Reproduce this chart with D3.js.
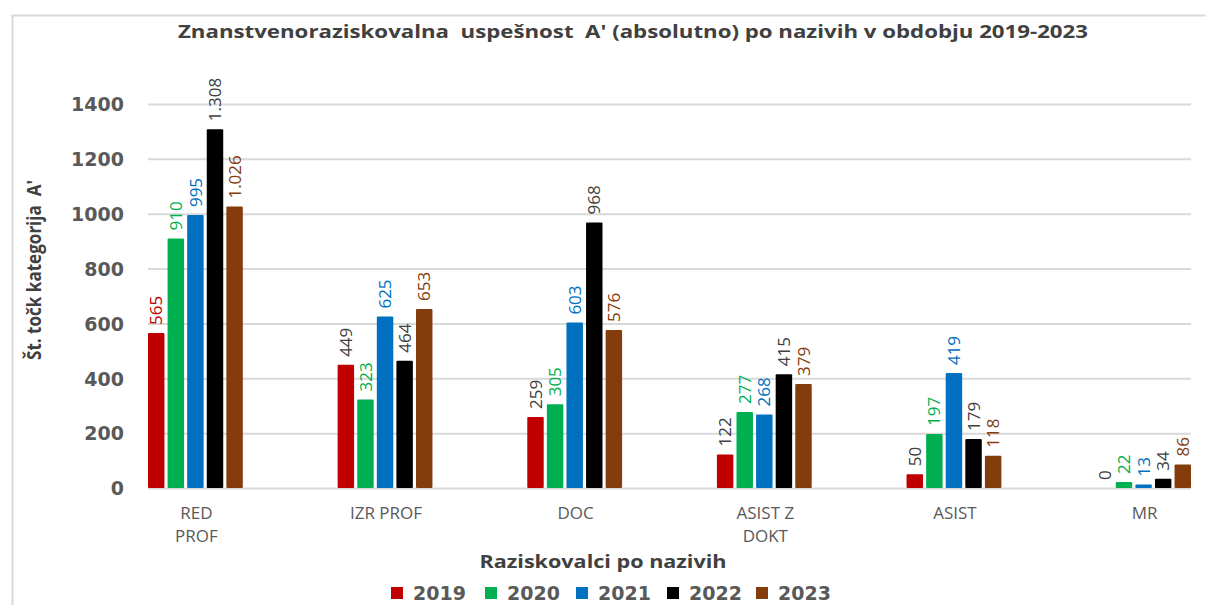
<!DOCTYPE html>
<html><head><meta charset="utf-8">
<script src="https://cdn.jsdelivr.net/npm/d3@7"></script>
<style>
body{margin:0;background:#fff;}
svg{display:block;}
text{white-space:pre;}
</style></head>
<body><svg id="c" width="1206" height="605"></svg>
<script>
const categories = [["RED","PROF"],["IZR PROF"],["DOC"],["ASIST Z","DOKT"],["ASIST"],["MR"]];
const years = ["2019","2020","2021","2022","2023"];
const v2019 = [565, 449, 259, 122, 50, 0];
const v2020 = [910, 323, 305, 277, 197, 22];
const v2021 = [995, 625, 603, 268, 419, 13];
const v2022 = [1308, 464, 968, 415, 179, 34];
const v2023 = [1026, 653, 576, 379, 118, 86];
const yTicks = [0, 200, 400, 600, 800, 1000, 1200, 1400];
const barColors = ["#c00000", "#00b050", "#0070c0", "#000000", "#843c0c"];
const labelColors = [["#c00000","#404040","#404040","#404040","#404040","#404040"],
  "#00b050","#0070c0","#404040","#843c0c"];
const title = "Znanstvenoraziskovalna  uspešnost  A' (absolutno) po nazivih v obdobju 2019-2023";
const yTitle = "Št. točk kategorija  A'";
const xTitle = "Raziskovalci po nazivih";

const series = [v2019, v2020, v2021, v2022, v2023];
const svg = d3.select("#c");
const catKeys = categories.map(c => c.join(" "));

// frame
svg.append("rect").attr("x", 12.5).attr("y", 15.5).attr("width", 1300).attr("height", 700)
  .attr("fill", "none").attr("stroke", "#d9d9d9").attr("stroke-width", 2);

const x0 = d3.scaleBand().domain(catKeys).range([148, 1191]).paddingInner(0.5).paddingOuter(0);
const x1 = d3.scaleBand().domain(years).range([0, x0.bandwidth()]).paddingInner(0.16).paddingOuter(0);
const y = d3.scaleLinear().domain([0, 1400]).range([488, 104]);

// gridlines
const grid = svg.append("g").attr("transform", "translate(148,0)")
  .call(d3.axisLeft(y).tickValues(yTicks).tickSize(-(1191 - 148)).tickFormat(""));
grid.select(".domain").remove();
grid.selectAll("line").attr("stroke", "#d9d9d9").attr("stroke-width", 2);

// y tick labels
const ya = svg.append("g").attr("transform", "translate(124,0)")
  .call(d3.axisLeft(y).tickValues(yTicks).tickSize(0).tickPadding(0).tickFormat(d3.format("d")));
ya.select(".domain").remove();
ya.selectAll("text").attr("font-family", "DejaVu Sans").attr("font-weight", "bold")
  .attr("font-size", 19).attr("fill", "#595959").attr("dy", "0.36em");

const fmt = d3.formatLocale({decimal: ",", thousands: ".", grouping: [3], currency: ["", "€"]}).format(",d");

// bars
const groups = svg.append("g").selectAll("g").data(catKeys).join("g")
  .attr("transform", d => `translate(${x0(d)},0)`);
groups.each(function(cat, ci) {
  const g = d3.select(this);
  years.forEach((yr, si) => {
    const v = series[si][ci];
    const bx = x1(yr);
    if (v > 0) {
      g.append("rect").attr("x", bx).attr("y", y(v)).attr("width", x1.bandwidth())
        .attr("height", y(0) - y(v)).attr("fill", barColors[si]).attr("rx", 1);
    }
    const lc = Array.isArray(labelColors[si]) ? labelColors[si][ci] : labelColors[si];
    const cx = bx + x1.bandwidth() / 2;
    const ty = y(v) - 8;
    g.append("text").attr("transform", `translate(${cx},${ty}) rotate(-90)`)
      .attr("dy", "0.36em").attr("text-anchor", "start")
      .attr("font-family", "Open Sans").attr("font-size", 17).attr("fill", lc)
      .text(fmt(v));
  });
});

// category labels
const catG = svg.append("g");
categories.forEach((lines, i) => {
  const cx = x0(catKeys[i]) + x0.bandwidth() / 2 + 1;
  const t = catG.append("text").attr("x", cx).attr("y", 519).attr("text-anchor", "middle")
    .attr("font-family", "Open Sans").attr("font-size", 17).attr("fill", "#595959");
  lines.forEach((l, li) => {
    t.append("tspan").attr("x", cx).attr("dy", li === 0 ? 0 : 23).text(l);
  });
});

// title
svg.append("text").attr("x", 633).attr("y", 38).attr("text-anchor", "middle")
  .attr("font-family", "Open Sans").attr("font-weight", "bold").attr("font-size", 18)
  .attr("fill", "#404040").attr("textLength", 910).attr("lengthAdjust", "spacingAndGlyphs").text(title);

// y title
svg.append("text").attr("transform", "translate(41,270) rotate(-90)").attr("text-anchor", "middle")
  .attr("font-family", "Open Sans").attr("font-weight", "bold").attr("font-size", 19)
  .attr("fill", "#404040").attr("textLength", 180).attr("lengthAdjust", "spacingAndGlyphs").text(yTitle);

// x title
svg.append("text").attr("x", 603).attr("y", 568).attr("text-anchor", "middle")
  .attr("font-family", "Open Sans").attr("font-weight", "bold").attr("font-size", 18)
  .attr("fill", "#404040").attr("textLength", 247).attr("lengthAdjust", "spacingAndGlyphs").text(xTitle);

// legend
const legendX = [391, 485, 576, 667, 756];
const lg = svg.append("g");
years.forEach((yr, i) => {
  lg.append("rect").attr("x", legendX[i]).attr("y", 587).attr("width", 12).attr("height", 12).attr("fill", barColors[i]);
  lg.append("text").attr("x", legendX[i] + 22).attr("y", 600).attr("font-family", "DejaVu Sans")
    .attr("font-weight", "bold").attr("font-size", 19).attr("fill", "#595959").text(yr);
});
</script></body></html>
